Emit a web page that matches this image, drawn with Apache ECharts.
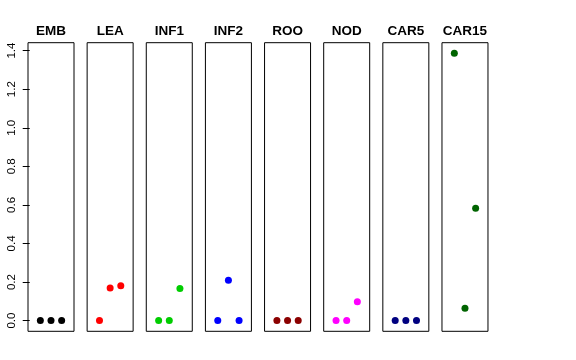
<!DOCTYPE html>
<html>
<head>
<meta charset="utf-8">
<script src="https://cdn.jsdelivr.net/npm/echarts@6/dist/echarts.min.js"></script>
<style>html,body{margin:0;padding:0;background:#fff}#c{width:576px;height:360px}</style>
</head>
<body>
<div id="c"></div>
<script>
const categories = ['EMB','LEA','INF1','INF2','ROO','NOD','CAR5','CAR15'];
const xPositions = [1, 2, 3];
const valEMB   = [0, 0, 0];
const valLEA   = [0, 0.169, 0.181];
const valINF1  = [0, 0, 0.166];
const valINF2  = [0, 0.209, 0];
const valROO   = [0, 0, 0];
const valNOD   = [0, 0, 0.098];
const valCAR5  = [0, 0, 0];
const valCAR15 = [1.386, 0.064, 0.583];
const seriesValues = [valEMB, valLEA, valINF1, valINF2, valROO, valNOD, valCAR5, valCAR15];
const colors = ['#000000','#FF0000','#00CD00','#0000FF','#8B0000','#FF00FF','#000080','#006400'];
const yTicks = [0, 0.2, 0.4, 0.6, 0.8, 1.0, 1.2, 1.4];

const font = 'Liberation Sans, Arial, Helvetica, sans-serif';
const grids = [], xAxes = [], yAxes = [], series = [];
categories.forEach((cat, i) => {
  grids.push({
    left: 28 + i * 59.14, top: 42.7, width: 46, height: 288.6,
    show: true, borderColor: '#000', borderWidth: 1, backgroundColor: 'transparent'
  });
  xAxes.push({
    gridIndex: i, type: 'value', min: -0.16, max: 4.16, position: 'top',
    name: cat, nameLocation: 'middle', nameGap: 4.5,
    nameTextStyle: { fontFamily: font, fontSize: 13.5, fontWeight: 'bold', color: '#000' },
    axisLine: { show: false }, axisTick: { show: false }, axisLabel: { show: false },
    splitLine: { show: false }
  });
  const first = i === 0;
  yAxes.push({
    gridIndex: i, type: 'value', min: -0.0554, max: 1.441,
    axisLine: { show: false },
    axisTick: { show: first, length: 7, lineStyle: { color: '#000' }, customValues: yTicks },
    axisLabel: {
      show: first, rotate: 90, margin: 10, customValues: yTicks,
      formatter: v => v.toFixed(1),
      fontFamily: font, fontSize: 11.5, color: '#000'
    },
    splitLine: { show: false }
  });
  series.push({
    type: 'scatter', xAxisIndex: i, yAxisIndex: i,
    data: xPositions.map((x, k) => [x, seriesValues[i][k]]),
    symbol: 'circle', symbolSize: 7,
    itemStyle: { color: colors[i], opacity: 1 },
    silent: true, animation: false
  });
});

const chart = echarts.init(document.getElementById('c'), null, { renderer: 'canvas' });
chart.setOption({
  animation: false,
  backgroundColor: '#fff',
  grid: grids, xAxis: xAxes, yAxis: yAxes, series: series
});
</script>
</body>
</html>
